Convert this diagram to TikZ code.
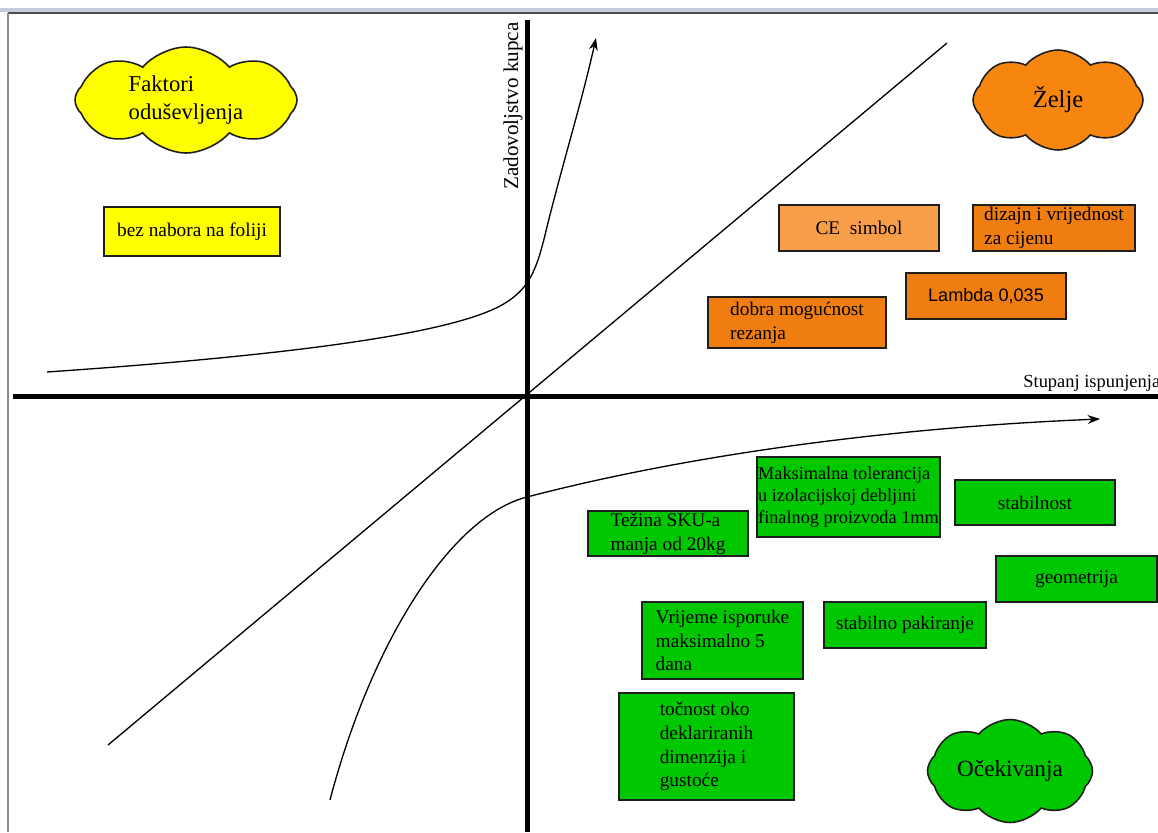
\documentclass[tikz,border=0pt]{standalone}
\usepackage{fontspec}
\setmainfont{Liberation Serif}
\newfontfamily\arialfont{Liberation Sans}
\usetikzlibrary{shapes.symbols,arrows.meta}
\definecolor{zuta}{RGB}{255,255,0}
\definecolor{oranz}{RGB}{240,125,15}
\definecolor{svjoranz}{RGB}{248,158,72}
\definecolor{oblakoranz}{RGB}{247,134,15}
\definecolor{zelena}{RGB}{0,200,0}
\definecolor{rub}{RGB}{30,30,30}
\definecolor{okvir}{RGB}{196,206,218}
\tikzset{
	kutija/.style={draw=rub,line width=0.8pt,inner sep=0pt,align=left,font=\fontsize{11}{13.5}\selectfont},
	zkutija/.style={kutija,fill=zuta},
	okutija/.style={kutija,fill=oranz},
	gkutija/.style={kutija,fill=zelena},
	oblak/.style={cloud,cloud puffs=8,cloud puff arc=100,cloud ignores aspect,draw=rub,line width=0.9pt,inner sep=0pt,align=left},
	os/.style={line width=2.85pt},
	krivulja/.style={line width=0.75pt},
	vrh/.style={-{Stealth[length=7pt,width=5pt]}}
}
\begin{document}
\begin{tikzpicture}[x=0.02cm,y=-0.02cm]
	\useasboundingbox (0,0) rectangle (1158,832);
	\fill [okvir] (0,8) rectangle (1158,12);
	\draw [line width=1.2pt,black!70] (8,13) -- (1158,13);
	\draw [line width=0.7pt,black!45] (8,13) -- (8,832);

	\coordinate (xl) at (13,396);
	\coordinate (xd) at (1158,396);
	\coordinate (yg) at (527,20);
	\coordinate (yd) at (527,832);
	\coordinate (d1) at (108,745);
	\coordinate (d2) at (947,43);
	\coordinate (g1) at (47,372);
	\coordinate (g2) at (596,38);
	\coordinate (o1) at (330,800);
	\coordinate (o2) at (1100,419);

	\draw [krivulja] (d1) -- (d2);
	\draw [krivulja,vrh] (g1) .. controls (250,358) and (440,338) .. (500,306) .. controls (528,291) and (536,272) .. (545,235) .. controls (562,165) and (581,105) .. (g2);
	\draw [krivulja,vrh] (o1) .. controls (372,640) and (452,516) .. (527,497) .. controls (680,457) and (880,428) .. (o2);
	\draw [os] (xl) -- (xd);
	\draw [os] (yg) -- (yd);

	\node [rotate=90,inner sep=0pt,font=\fontsize{12}{14}\selectfont](zadovoljstvo) at (513,106) {Zadovoljstvo kupca};
	\node [anchor=base west,inner sep=0pt,font=\fontsize{10.5}{12}\selectfont](ispunjenje) at (1023,387) {Stupanj ispunjenja};

	\node [oblak,fill=zuta,minimum width=4.44cm,minimum height=2.12cm,font=\fontsize{12.9}{16}\selectfont](faktori) at (186,100) {Faktori\\oduševljenja};
	\node [oblak,fill=oblakoranz,minimum width=3.4cm,minimum height=2cm,font=\fontsize{14}{16}\selectfont](zelje) at (1058,100) {Želje};
	\node [oblak,fill=zelena,minimum width=3.3cm,minimum height=2.06cm,font=\fontsize{13.2}{16}\selectfont](ocekivanja) at (1010,771) {Očekivanja};

	\node [zkutija,minimum width=3.52cm,minimum height=0.98cm](nabor) at (192,231.5) {bez nabora na foliji};

	\node [kutija,fill=svjoranz,minimum width=3.2cm,minimum height=0.92cm](ce) at (859,228) {CE~ simbol};
	\node [okutija,minimum width=3.24cm,minimum height=0.92cm](dizajn) at (1054,228) {dizajn i vrijednost\\za cijenu};
	\node [okutija,minimum width=3.2cm,minimum height=0.92cm,font=\arialfont\fontsize{10.3}{12}\selectfont](lambda) at (986,296) {Lambda 0,035};
	\node [okutija,minimum width=3.56cm,minimum height=1.02cm](rezanje) at (797,322.5) {dobra mogućnost\\rezanja};

	\node [gkutija,minimum width=3.2cm,minimum height=0.9cm](tezina) at (668,533.5) {Težina SKU-a\\manja od 20kg};
	\node [gkutija,minimum width=3.66cm,minimum height=1.6cm,font=\fontsize{10.4}{12.4}\selectfont](tolerancija) at (848.5,497) {Maksimalna tolerancija\\u izolacijskoj debljini\\finalnog proizvoda 1mm};
	\node [gkutija,minimum width=3.2cm,minimum height=0.9cm](stabilnost) at (1035,502.5) {stabilnost};
	\node [gkutija,minimum width=3.22cm,minimum height=0.92cm](geometrija) at (1076.5,579) {geometrija};
	\node [gkutija,minimum width=3.24cm,minimum height=0.92cm](pakiranje) at (905,625) {stabilno pakiranje};
	\node [gkutija,minimum width=3.22cm,minimum height=1.54cm](isporuka) at (722.5,640.5) {Vrijeme isporuke\\maksimalno 5\\dana};
	\node [gkutija,minimum width=3.5cm,minimum height=2.14cm](tocnost) at (706.5,746.5) {točnost oko\\deklariranih\\dimenzija i\\gustoće};
\end{tikzpicture}
\end{document}
